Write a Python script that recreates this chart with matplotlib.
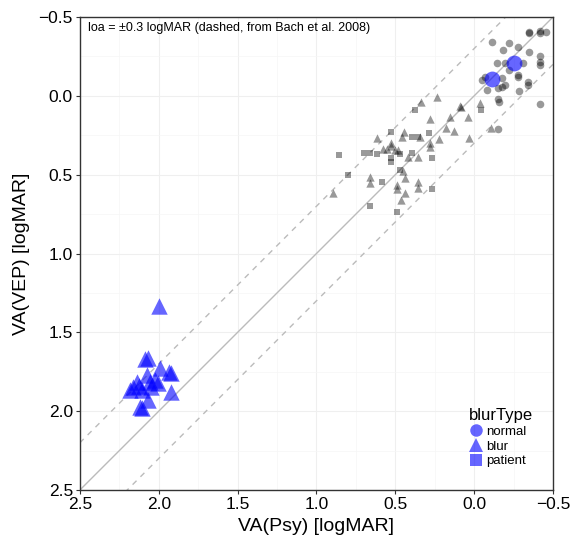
import numpy as np
import matplotlib
matplotlib.use('Agg')
from matplotlib import pyplot as plt
from matplotlib.lines import Line2D

plt.rcParams['font.family'] = ['Liberation Sans', 'DejaVu Sans']

# grey points (normal / blur / patient)
normal_psy = [-0.345, -0.417, -0.453, -0.345, -0.417, -0.111, -0.222, -0.184, -0.279, -0.345,
              -0.417, -0.417, -0.417, -0.142, -0.195, -0.307, -0.222, -0.279, -0.279, -0.174,
              -0.047, -0.079, -0.153, -0.174, -0.195, -0.343, -0.343, -0.286, -0.149, -0.159,
              -0.417, -0.149, -0.07]
normal_vep = [-0.407, -0.411, -0.407, -0.40, -0.40, -0.343, -0.337, -0.291, -0.312, -0.280,
              -0.255, -0.217, -0.196, -0.206, -0.206, -0.206, -0.164, -0.121, -0.135, -0.111,
              -0.100, -0.037, -0.048, -0.054, -0.069, -0.090, -0.069, -0.033, 0.022, 0.037,
              0.054, 0.210, -0.12]

blur_psy = [0.338, 0.238, 0.090, 0.085, -0.036, 0.281, 0.154, 0.042, 0.179, 0.128,
            0.035, 0.222, 0.444, 0.455, 0.345, 0.277, 0.619, 0.524, 0.530, 0.580,
            0.550, 0.500, 0.480, 0.418, 0.355, 0.661, 0.661, 0.492, 0.492, 0.439,
            0.450, 0.355, 0.355, 0.894, 0.439, 0.464, -0.104, 0.28]
blur_vep = [0.037, 0.005, 0.064, 0.07, 0.043, 0.147, 0.136, 0.136, 0.206, 0.221,
            0.269, 0.274, 0.227, 0.262, 0.259, 0.322, 0.269, 0.301, 0.320, 0.336,
            0.340, 0.345, 0.345, 0.386, 0.390, 0.513, 0.555, 0.565, 0.590, 0.523,
            0.475, 0.544, 0.586, 0.614, 0.614, 0.660, 0.202, 0.30]

patient_psy = [0.376, -0.041, 0.524, 0.397, 0.355, 0.285, 0.856, 0.699, 0.661, 0.619,
               0.524, 0.524, 0.471, 0.397, 0.264, 0.798, 0.471, 0.587, 0.264, 0.661,
               0.492]
patient_vep = [0.090, 0.090, 0.227, 0.262, 0.259, 0.238, 0.375, 0.360, 0.364, 0.369,
               0.396, 0.418, 0.371, 0.364, 0.392, 0.502, 0.470, 0.544, 0.592, 0.698,
               0.735]

# blue (highlighted) points
hl_normal_psy = [-0.253, -0.111]
hl_normal_vep = [-0.210, -0.107]
hl_blur_psy = [1.997, 2.088, 2.067, 1.993, 1.934, 1.919, 2.077, 2.140, 2.162, 2.183,
               2.124, 2.056, 2.024, 2.003, 2.052, 2.109, 1.925, 2.067, 2.120, 2.109]
hl_blur_vep = [1.333, 1.671, 1.665, 1.728, 1.749, 1.759, 1.770, 1.813, 1.844, 1.865,
               1.840, 1.813, 1.802, 1.823, 1.844, 1.865, 1.876, 1.929, 1.971, 1.981]

loa = 0.3

fig = plt.figure(figsize=(5.83, 5.5), dpi=100)
ax = fig.add_axes([0.137, 0.109, 0.8115, 0.860])

ax.set_xlim(2.5, -0.5)
ax.set_ylim(2.5, -0.5)

# grid like theme_bw
ax.set_xticks(np.arange(-0.5, 2.51, 0.5))
ax.set_yticks(np.arange(-0.5, 2.51, 0.5))
ax.set_xticks(np.arange(-0.25, 2.5, 0.5), minor=True)
ax.set_yticks(np.arange(-0.25, 2.5, 0.5), minor=True)
ax.grid(which='major', color='#efefef', lw=0.8)
ax.grid(which='minor', color='#f6f6f6', lw=0.5)
ax.tick_params(which='minor', length=0)
ax.tick_params(which='major', length=3, color='#333333', labelsize=12.5, pad=2)
ax.set_axisbelow(True)
fmt = lambda v: f'{v:.1f}'.replace('-', '\u2212')
ax.set_xticklabels([fmt(v) for v in ax.get_xticks()])
ax.set_yticklabels([fmt(v) for v in ax.get_yticks()])
for s in ax.spines.values():
    s.set_color('#333333')
    s.set_linewidth(1.0)

xx = np.array([-0.5, 2.5])
ax.plot(xx, xx, color='#bbbbbb', lw=1.0, zorder=1)
ax.plot(xx, xx + loa, color='#bbbbbb', lw=1.0, ls=(0, (4, 4)), zorder=1)
ax.plot(xx, xx - loa, color='#bbbbbb', lw=1.0, ls=(0, (4, 4)), zorder=1)

ax.scatter(normal_psy, normal_vep, marker='o', s=30, color='black', alpha=0.4, lw=0, zorder=2)
ax.scatter(blur_psy, blur_vep, marker='^', s=36, color='black', alpha=0.4, lw=0, zorder=2)
ax.scatter(patient_psy, patient_vep, marker='s', s=24, color='black', alpha=0.4, lw=0, zorder=2)

ax.scatter(hl_normal_psy, hl_normal_vep, marker='o', s=130, color='#0000ff', alpha=0.6, lw=0, zorder=3)
ax.scatter(hl_blur_psy, hl_blur_vep, marker='^', s=140, color='#0000ff', alpha=0.6, lw=0, zorder=3)

ax.text(2.45, -0.43, 'loa = \u00b10.3 logMAR (dashed, from Bach et al. 2008)',
        fontsize=9, va='center', ha='left')

ax.set_xlabel('VA(Psy) [logMAR]', fontsize=14, labelpad=4)
ax.set_ylabel('VA(VEP) [logMAR]', fontsize=14, labelpad=6)

handles = [
    Line2D([], [], marker='o', ls='', color='#0000ff', alpha=0.6, ms=9, mew=0),
    Line2D([], [], marker='^', ls='', color='#0000ff', alpha=0.6, ms=10, mew=0),
    Line2D([], [], marker='s', ls='', color='#0000ff', alpha=0.6, ms=8, mew=0),
]
leg = ax.legend(handles, ['normal', 'blur', 'patient'], title='blurType',
                loc='lower right', frameon=False, fontsize=9.5, title_fontsize=12,
                handletextpad=0.1, labelspacing=0.2, borderaxespad=0.6,
                handlelength=1.2, bbox_to_anchor=(0.985, 0.02))
leg._legend_box.align = 'left'

fig.savefig('out.png', dpi=100)
